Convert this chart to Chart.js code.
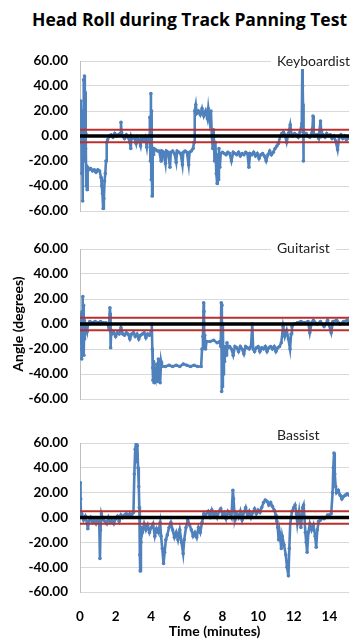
<!DOCTYPE html>
<html>
<head>
<meta charset="utf-8">
<script src="https://cdn.jsdelivr.net/npm/chart.js@4"></script>
<style>
body { margin: 0; background: #fff; }
#wrap { position: relative; width: 353px; height: 641px; overflow: hidden; font-family: Lato, sans-serif; }
#wrap canvas { position: absolute; left: 0; }
#title { position: absolute; left: 32px; top: 7px; font-family: 'Open Sans', sans-serif; font-weight: bold; font-size: 17.5px; white-space: nowrap; }
.lbl { position: absolute; left: 271px; padding: 0 6px; background: #fff; font-size: 14px; color: #222; line-height: 16px; }
</style>
</head>
<body>
<div id="wrap">
  <div id="title">Head Roll during Track Panning Test</div>
  <canvas id="keys" width="353" height="170" style="top:50px"></canvas>
  <canvas id="guitar" width="353" height="170" style="top:238px"></canvas>
  <canvas id="bass" width="353" height="209" style="top:432px"></canvas>
  <div class="lbl" style="top:53px">Keyboardist</div>
  <div class="lbl" style="top:240px">Guitarist</div>
  <div class="lbl" style="top:427px">Bassist</div>
</div>
<script>
// axis ticks and reference levels
const timeTicks = [0, 2, 4, 6, 8, 10, 12, 14];
const angleTicks = [-60, -40, -20, 0, 20, 40, 60];
const timeMin = 0, timeMax = 15.1;
const zeroLine = 0;
const upperLimit = 5;
const lowerLimit = -5;

// Keyboardist
const keysTime = [0.00,0.03,0.05,0.08,0.10,0.12,0.15,0.17,0.20,0.22,0.25,0.27,0.29,0.31,0.33,0.35,0.37,0.40,0.43,0.50,
  0.60,0.70,0.80,0.90,1.00,1.10,1.18,1.22,1.26,1.30,1.34,1.38,1.42,1.46,1.50,1.55,1.65,1.75,1.85,1.95,
  2.05,2.15,2.25,2.30,2.33,2.40,2.50,2.60,2.70,2.80,2.85,2.88,2.95,3.05,3.15,3.20,3.30,3.40,3.45,3.55,
  3.65,3.75,3.80,3.88,3.92,3.95,3.98,4.00,4.02,4.05,4.08,4.10,4.15,4.25,4.35,4.45,4.55,4.60,4.70,4.80,
  4.85,4.95,5.05,5.10,5.20,5.30,5.40,5.45,5.55,5.65,5.75,5.80,5.90,6.00,6.10,6.15,6.25,6.35,6.40,6.44,
  6.50,6.55,6.65,6.75,6.85,6.95,7.05,7.15,7.20,7.28,7.35,7.40,7.45,7.50,7.55,7.60,7.65,7.70,7.73,7.76,
  7.80,7.85,7.90,8.00,8.10,8.20,8.30,8.40,8.50,8.60,8.70,8.80,8.90,9.00,9.10,9.20,9.30,9.40,9.48,9.55,
  9.65,9.75,9.85,9.95,10.05,10.15,10.25,10.35,10.45,10.55,10.65,10.75,10.85,10.95,11.05,11.14,11.24,11.33,11.42,11.50,
  11.60,11.70,11.80,11.88,11.95,12.05,12.15,12.25,12.35,12.45,12.48,12.50,12.52,12.54,12.56,12.60,12.70,12.80,12.90,13.00,
  13.05,13.08,13.12,13.20,13.30,13.40,13.50,13.54,13.58,13.65,13.75,13.85,13.95,14.05,14.15,14.25,14.35,14.46,14.55,14.65,
  14.75,14.85,14.95,15.05,15.10];
const keysAngle = [0,-5,28,10,-30,20,-52,5,45,-20,48,0,35,-10,2,-40,-27,-43,-25,-27,
  -26,-28,-27,-29,-27,-28,-33,-40,-46,-58,-50,-36,-30,-20,-5,-3,0,1,-1,2,
  0,1,2,11,3,0,-2,1,-1,-5,-10,0,-2,-1,-6,-1,-3,-8,-2,-4,
  -1,-9,-2,0,15,-20,34,-35,20,-48,-10,-15,-10,-11,-12,-12,-20,-12,-13,-22,
  -12,-13,-25,-13,-12,-14,-21,-12,-13,-14,-23,-13,-12,-13,-23,-13,-12,-10,-5,20,
  25,18,20,17,22,16,20,14,22,12,20,0,-10,5,-20,-5,-30,-38,-15,-35,
  -10,-25,-14,-13,-14,-15,-13,-14,-20,-13,-14,-15,-13,-16,-14,-15,-13,-14,-25,-14,
  -15,-13,-16,-14,-18,-15,-14,-16,-20,-15,-12,-15,-13,-10,-8,-6,0,2,3,1,
  -5,2,9,1,0,2,1,-1,3,10,57,40,25,-20,5,1,2,0,-1,2,
  6,16,2,0,1,-2,12,4,0,1,-1,2,0,1,-2,0,-4,-11,-1,1,
  -2,0,-3,-1,-2];

// Guitarist
const guitarTime = [0.00,0.02,0.04,0.06,0.08,0.10,0.12,0.14,0.16,0.18,0.20,0.22,0.24,0.26,0.30,0.35,0.40,0.45,0.55,0.70,
  0.85,1.00,1.15,1.30,1.45,1.55,1.62,1.68,1.70,1.72,1.75,1.80,1.90,2.00,2.10,2.20,2.30,2.40,2.50,2.60,
  2.70,2.80,2.90,3.00,3.10,3.20,3.30,3.40,3.50,3.60,3.70,3.80,3.90,4.00,4.03,4.06,4.08,4.10,4.13,4.16,
  4.20,4.25,4.30,4.35,4.40,4.45,4.50,4.55,4.60,4.80,5.00,5.20,5.40,5.60,5.80,6.00,6.20,6.40,6.60,6.80,
  6.85,6.90,6.94,6.96,6.98,7.00,7.05,7.10,7.30,7.50,7.70,7.85,7.90,7.93,7.95,7.97,7.99,8.02,8.05,8.08,
  8.12,8.15,8.20,8.25,8.30,8.40,8.50,8.60,8.70,8.80,8.90,9.00,9.10,9.20,9.30,9.40,9.50,9.60,9.67,9.72,
  9.80,9.90,10.00,10.10,10.20,10.30,10.40,10.50,10.60,10.70,10.80,10.90,11.00,11.10,11.20,11.30,11.40,11.50,11.60,11.70,
  11.79,11.85,11.90,12.00,12.20,12.40,12.60,12.80,12.90,13.00,13.10,13.30,13.50,13.70,13.90,14.10,14.20,14.40,14.60,14.80,
  15.00,15.10];
const guitarAngle = [0,8,-15,5,-20,-28,10,-10,22,-18,15,-25,3,-12,-5,-3,-6,0,2,1,
  2,1,2,1,1,0,-3,13,8,-19,-5,-8,-7,-10,-7,-8,-3,-8,-9,-7,
  -8,-12,-8,-7,-10,-8,-12,-9,-8,-7,-11,-8,-9,-6,0,-20,-35,-45,-30,-47,
  -38,-42,-32,-46,-28,-35,-47,-30,-34,-34,-33,-34,-33,-34,-32,-33,-34,-33,-34,-34,
  -20,-10,17,10,-12,-9,-20,-14,-14,-13,-15,-14,-18,17,-54,15,-50,0,-40,-20,
  -30,-18,-25,-15,-19,-18,-20,-25,-18,-19,-22,-18,-20,-24,-18,-19,-20,-18,0,-20,
  -22,-19,-18,-22,-19,-20,-18,-22,-19,-18,-20,-18,-22,-19,-18,-15,-2,-10,-5,-12,
  -20,-8,-2,0,1,2,1,2,-7,1,3,0,2,-2,3,-7,2,3,0,2,
  3,1];

// Bassist
const bassTime = [0.00,0.02,0.04,0.06,0.10,0.20,0.30,0.40,0.44,0.50,0.60,0.70,0.80,0.90,1.00,1.08,1.12,1.15,1.20,1.30,
  1.40,1.50,1.60,1.70,1.80,1.90,2.00,2.10,2.20,2.30,2.40,2.50,2.60,2.70,2.80,2.90,3.00,3.05,3.10,3.15,
  3.18,3.22,3.26,3.30,3.33,3.36,3.38,3.42,3.46,3.50,3.60,3.70,3.80,3.90,4.00,4.10,4.20,4.30,4.40,4.50,
  4.55,4.62,4.69,4.75,4.82,4.90,5.00,5.10,5.20,5.30,5.40,5.50,5.60,5.70,5.79,5.85,5.95,6.05,6.15,6.25,
  6.35,6.45,6.55,6.65,6.75,6.85,6.95,7.05,7.15,7.20,7.30,7.40,7.50,7.60,7.70,7.80,7.90,8.00,8.10,8.20,
  8.30,8.40,8.50,8.58,8.62,8.66,8.70,8.80,8.90,9.00,9.10,9.20,9.30,9.40,9.50,9.60,9.70,9.80,9.90,10.00,
  10.10,10.20,10.30,10.40,10.50,10.60,10.70,10.80,10.90,11.00,11.05,11.10,11.15,11.20,11.30,11.35,11.45,11.55,11.62,11.70,
  11.75,11.80,11.90,12.00,12.07,12.15,12.20,12.30,12.40,12.50,12.55,12.60,12.65,12.70,12.75,12.82,12.90,13.00,13.10,13.20,
  13.26,13.32,13.40,13.50,13.60,13.70,13.80,13.90,14.00,14.10,14.18,14.22,14.26,14.30,14.35,14.40,14.50,14.60,14.70,14.80,
  14.90,15.00,15.10];
const bassAngle = [5,28,15,0,3,-2,1,-5,-9,-3,0,-4,-2,-5,-1,-3,-33,-10,3,-2,
  -3,-5,0,-4,-2,-5,-1,1,-3,2,0,2,3,1,3,2,4,35,55,60,
  45,58,40,25,8,-30,-43,-20,-8,-12,-5,-10,-6,-12,-8,-5,-15,-9,-12,-4,
  -15,-25,-37,-28,-18,-14,-8,-4,-10,-16,-12,-18,-10,-20,-29,-18,-8,-2,-6,-10,
  -15,-12,-16,-8,-12,-4,3,2,4,5,1,6,2,4,0,5,7,2,4,-1,
  5,3,0,22,15,5,-2,3,0,5,-2,4,8,2,5,0,4,7,3,6,
  4,8,12,14,13,10,12,9,6,2,-3,-8,-18,-12,-25,-15,-22,-30,-40,-47,
  -25,-5,5,8,10,3,-5,5,-8,8,10,0,-12,-20,-28,-12,-5,-10,-6,-15,
  -24,-10,-3,-2,0,-1,0,2,2,3,20,40,52,35,25,20,22,18,15,17,
  18,19,18];

const blue = '#4F81BD';
const red = '#B8302F';
const tickFont = { family: 'Lato', weight: 'bold', size: 13.5 };

function makePanel(id, times, angles, bottom, yTitle) {
  const points = times.map((t, i) => ({ x: t, y: angles[i] }));
  const level = v => [{ x: timeMin, y: v }, { x: timeMax, y: v }];
  return new Chart(document.getElementById(id), {
    type: 'scatter',
    data: {
      datasets: [
        { data: points, showLine: true, borderColor: blue, backgroundColor: blue,
          borderWidth: 2.6, pointRadius: 1.8, pointBorderWidth: 0, order: 4 },
        { data: level(zeroLine), showLine: true, borderColor: '#000', borderWidth: 3.5, pointRadius: 0, order: 3 },
        { data: level(upperLimit), showLine: true, borderColor: red, borderWidth: 2, pointRadius: 0, order: 2 },
        { data: level(lowerLimit), showLine: true, borderColor: red, borderWidth: 2, pointRadius: 0, order: 1 }
      ]
    },
    options: {
      responsive: false,
      animation: false,
      events: [],
      layout: { padding: { top: 11, bottom: bottom ? 0 : 9, left: 0, right: 0 } },
      plugins: { legend: { display: false }, tooltip: { enabled: false } },
      scales: {
        x: {
          type: 'linear', min: timeMin, max: timeMax,
          grid: { display: true, color: 'rgba(0,0,0,0)', drawTicks: true, tickLength: 5, tickColor: 'rgba(0,0,0,0)' },
          border: { display: false },
          afterBuildTicks: s => { s.ticks = timeTicks.map(v => ({ value: v })); },
          afterFit: s => { s.height = bottom ? 49 : 0; },
          ticks: { display: bottom, padding: 12, autoSkip: false, maxRotation: 0, color: '#000', font: tickFont },
          title: { display: bottom, text: 'Time (minutes)', color: '#000',
                   font: { family: 'Lato', weight: 'bold', size: 14 }, padding: { top: 0, bottom: 1 } }
        },
        y: {
          min: -60, max: 60,
          afterBuildTicks: s => { s.ticks = angleTicks.map(v => ({ value: v })); },
          afterFit: s => { s.width = 80; },
          grid: { color: '#d9d9d9', drawTicks: true, tickLength: 12, tickColor: 'rgba(0,0,0,0)' },
          border: { color: '#bfbfbf' },
          ticks: { padding: 0, color: '#000', font: tickFont, callback: v => v.toFixed(2) },
          title: { display: !!yTitle, text: yTitle || '', color: '#000',
                   font: { family: 'Lato', weight: 'bold', size: 14 }, padding: { top: 10, bottom: 0 } }
        }
      }
    }
  });
}

makePanel('keys', keysTime, keysAngle, false);
makePanel('guitar', guitarTime, guitarAngle, false, 'Angle (degrees)');
makePanel('bass', bassTime, bassAngle, true);
</script>
</body>
</html>
